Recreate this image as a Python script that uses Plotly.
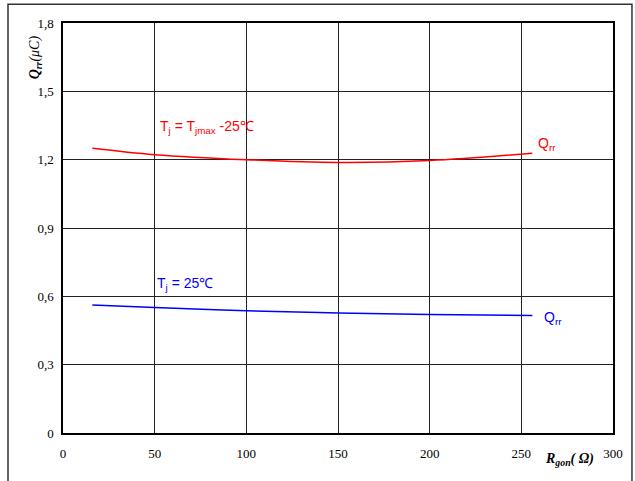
import plotly.graph_objects as go

# Data
r_hot = [16, 50, 100, 150, 200, 256]
qrr_hot = [1.25, 1.222, 1.200, 1.188, 1.196, 1.228]
r_25 = [16, 50, 100, 150, 200, 256]
qrr_25 = [0.562, 0.551, 0.537, 0.527, 0.520, 0.516]

x_ticks = [0, 50, 100, 150, 200, 250, 300]
y_ticks = [0, 0.3, 0.6, 0.9, 1.2, 1.5, 1.8]
y_tick_text = ["0", "0,3", "0,6", "0,9", "1,2", "1,5", "1,8"]

fig = go.Figure()
fig.add_trace(go.Scatter(x=r_hot, y=qrr_hot, mode="lines", line=dict(color="#ff0000", width=1.5, shape="spline"),
                         showlegend=False, hoverinfo="skip"))
fig.add_trace(go.Scatter(x=r_25, y=qrr_25, mode="lines", line=dict(color="#0000ff", width=1.5, shape="spline"),
                         showlegend=False, hoverinfo="skip"))

serif = "Liberation Serif"
sans = "Liberation Sans"

fig.update_layout(
    width=635, height=481,
    margin=dict(l=63, r=22, t=23, b=48),
    paper_bgcolor="white", plot_bgcolor="white",
    xaxis=dict(range=[0, 300], tickvals=x_ticks, ticktext=[str(v) for v in x_ticks],
               showgrid=True, gridcolor="#222222", gridwidth=1, zeroline=False,
               showline=True, linecolor="black", linewidth=1.5, mirror=True,
               ticks="", ticklen=0, ticklabelstandoff=8,
               tickfont=dict(family=serif, size=13, color="black"),
               fixedrange=True),
    yaxis=dict(range=[0, 1.8], tickvals=y_ticks, ticktext=y_tick_text,
               showgrid=True, gridcolor="#222222", gridwidth=1, zeroline=False,
               showline=True, linecolor="black", linewidth=1.5, mirror=True,
               ticks="", ticklen=0, ticklabelstandoff=5,
               tickfont=dict(family=serif, size=13, color="black"),
               fixedrange=True),
)

# outer frame
fig.add_shape(type="rect", xref="paper", yref="paper", x0=-0.1, x1=1.0345, y0=-0.14, y1=1.046,
              line=dict(color="#333333", width=1.5), layer="below")

annos = [
    dict(x=52, y=1.345, text="T<sub>j</sub> = T<sub>jmax</sub> -25℃", font=dict(family=sans, size=14, color="#ff0000"),
         xanchor="left", yanchor="middle"),
    dict(x=258, y=1.27, text="Q<sub>rr</sub>", font=dict(family=sans, size=14, color="#ff0000"),
         xanchor="left", yanchor="middle"),
    dict(x=50, y=0.655, text="T<sub>j</sub> = 25℃", font=dict(family=sans, size=14, color="#0000ff"),
         xanchor="left", yanchor="middle"),
    dict(x=261, y=0.503, text="Q<sub>rr</sub>", font=dict(family=sans, size=14, color="#0000ff"),
         xanchor="left", yanchor="middle"),
]
for a in annos:
    fig.add_annotation(xref="x", yref="y", showarrow=False, **a)

fig.add_annotation(xref="paper", yref="paper", x=0.92, y=-0.065, showarrow=False,
                   text="<b><i>R</i></b><sub><b><i>gon</i></b></sub><b><i>( Ω)</i></b>",
                   font=dict(family=serif, size=14, color="black"), xanchor="center", yanchor="middle")
fig.add_annotation(xref="paper", yref="paper", x=-0.05, y=0.915, showarrow=False, textangle=-90,
                   text="<b><i>Q</i></b><sub><b><i>rr</i></b></sub><i>(μC)</i>",
                   font=dict(family=serif, size=14, color="black"), xanchor="center", yanchor="middle")

fig.write_html("out.html", config={"displayModeBar": False},
               post_script="document.body.style.margin='0';")
